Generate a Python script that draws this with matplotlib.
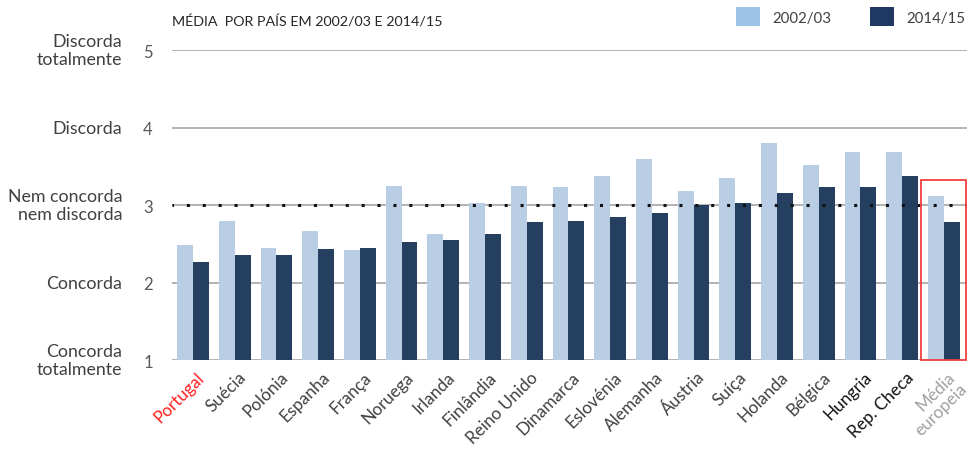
import matplotlib
matplotlib.use("Agg")
import matplotlib.pyplot as plt
from matplotlib.patches import Rectangle, Patch
import numpy as np

plt.rcParams['font.family'] = ['Lato', 'DejaVu Sans']

countries = ["Portugal", "Suécia", "Polónia", "Espanha", "França", "Noruega", "Irlanda",
             "Finlândia", "Reino Unido", "Dinamarca", "Eslovénia", "Alemanha", "Áustria",
             "Suíça", "Holanda", "Bélgica", "Hungria", "Rep. Checa", "Média\neuropeia"]
v2002 = [2.48, 2.79, 2.45, 2.66, 2.42, 3.25, 2.62, 3.03, 3.25, 3.23, 3.37, 3.59, 3.18,
         3.35, 3.80, 3.52, 3.69, 3.68, 3.12]
v2014 = [2.26, 2.36, 2.36, 2.43, 2.45, 2.52, 2.55, 2.62, 2.78, 2.80, 2.85, 2.90, 3.00,
         3.02, 3.16, 3.23, 3.23, 3.37, 2.78]
yticks = [1, 2, 3, 4, 5]
ylabels = ["Concorda\ntotalmente", "Concorda", "Nem concorda\nnem discorda", "Discorda",
           "Discorda\ntotalmente"]
series_names = ["2002/03", "2014/15"]
title = "MÉDIA  POR PAÍS EM 2002/03 E 2014/15"

light = "#B9CDE5"
dark = "#253F60"

fig = plt.figure(figsize=(9.73, 4.52), dpi=100)
ax = fig.add_axes([0.177, 0.2013, 0.817, 0.6857])

x = np.arange(len(countries))
w = 0.38
for yv in [1, 2, 4, 5]:
    ax.axhline(yv, color="#A6A6A6", lw=1.2, zorder=0)
ax.axhline(3, color="#A6A6A6", lw=1.2, zorder=0)
ax.bar(x - w / 2, np.array(v2002) - 1, w, bottom=1, color=light, zorder=2)
ax.bar(x + w / 2, np.array(v2014) - 1, w, bottom=1, color=dark, zorder=2)
ax.axhline(3, color="#111111", lw=2.2, linestyle=(0.5, (1, 4.2)), dash_capstyle='butt', zorder=3)

ax.set_xlim(-0.5, 18.56)
ax.set_ylim(1, 5)
for s in ax.spines.values():
    s.set_visible(False)
ax.set_yticks(yticks)
ax.set_yticklabels([str(t) for t in yticks], fontsize=12, color="#595959")
ax.tick_params(axis='y', length=0, pad=14)
ax.tick_params(axis='x', length=0)

ytr = ax.get_yaxis_transform()
for yv, lab in zip(yticks, ylabels):
    ax.text(-0.0629, yv, lab, transform=ytr, ha='right', va='center', fontsize=12.8,
            color="#404040", linespacing=1.1)

ax.set_xticks(x + 0.08)
ax.set_xticklabels(countries, rotation=45, ha='right', va='top', rotation_mode='anchor',
                   fontsize=12.3, linespacing=1.0)
colors = ["#FF2020"] + ["#404040"] * 15 + ["#111111", "#111111", "#A0A0A0"]
for t, c in zip(ax.get_xticklabels(), colors):
    t.set_color(c)
ax.tick_params(axis='x', pad=6)

ax.add_patch(Rectangle((17.46, 1), 1.07, 2.32, fill=False, edgecolor="#F04040", lw=1.3,
                       zorder=4, clip_on=False))

fig.text(0.177, 0.951, title, fontsize=10.3, color="#262626", va='center', ha='left')

handles = [Patch(facecolor="#9DC3E6"), Patch(facecolor="#1F3864")]
fig.legend(handles, series_names, loc='upper right', bbox_to_anchor=(1.006, 1.012), ncol=2,
           frameon=False, fontsize=10.8, handlelength=1.6, handleheight=1.6,
           columnspacing=2.6, handletextpad=0.8, labelcolor="#404040")

fig.savefig("out.png", dpi=100)
